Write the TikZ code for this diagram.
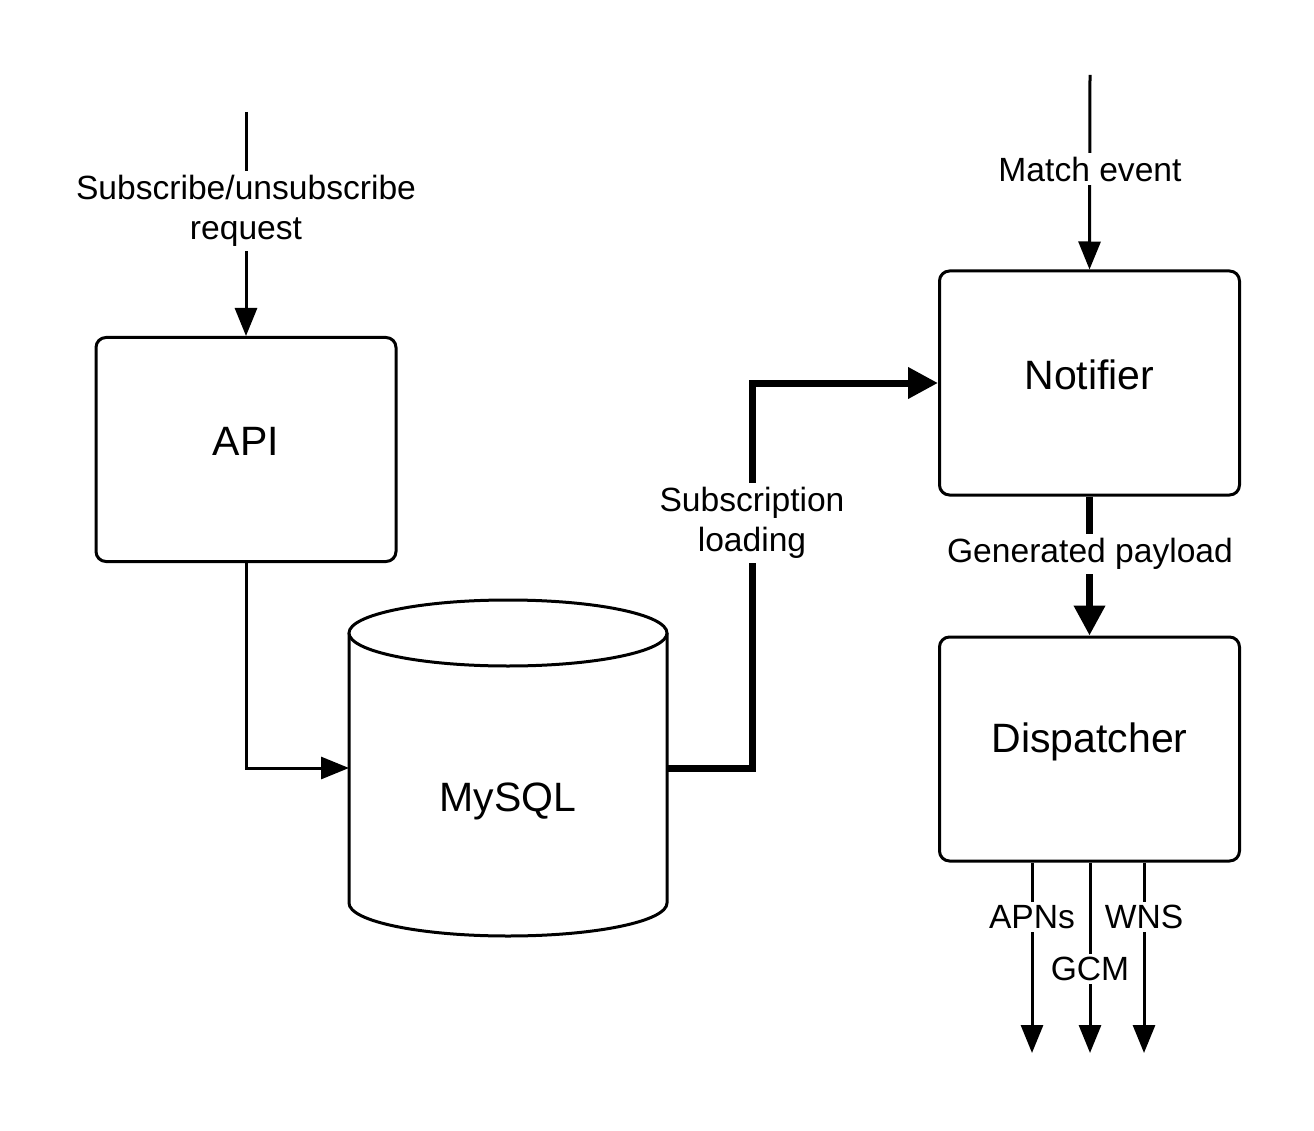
\documentclass[tikz,border=0pt]{standalone}
\usepackage{fontspec}
\setmainfont{Liberation Sans}
\usetikzlibrary{arrows.meta}
\tikzset{
  box/.style={draw, line width=3pt, rounded corners=10pt, minimum width=300pt, minimum height=224pt, inner sep=0pt},
  boxtext/.style={font=\fontsize{41pt}{48pt}\selectfont, inner sep=0pt},
  lbl/.style={font=\fontsize{33.6pt}{40pt}\selectfont, fill=white, inner sep=4pt, align=center},
  thinarrow/.style={line width=3pt, -{Triangle[length=28pt, width=22pt]}},
  thickarrow/.style={line width=7pt, -{Triangle[length=30pt, width=30pt]}},
}
\begin{document}
\begin{tikzpicture}[x=1pt, y=-1pt]
\useasboundingbox (0,0) rectangle (1314,1131);

% boxes
\node[box] (api) at (246,449.5) {};
\node[boxtext] (apit) at ([yshift=8pt]api.center) {API};
\node[box] (notifier) at (1089.5,383) {};
\node[boxtext] (notifiert) at ([yshift=8pt]notifier.center) {Notifier};
\node[box] (dispatcher) at (1089.5,749) {};
\node[boxtext] (dispatchert) at ([yshift=7pt]dispatcher.center) {Dispatcher};

% cylinder
\draw[line width=3pt, fill=white] (349,633) -- (349,903)
  arc[start angle=180, end angle=360, x radius=159pt, y radius=33pt] -- (667,633);
\draw[line width=3pt, fill=white] (508,633) ellipse[x radius=159pt, y radius=33pt];
\node[boxtext] (mysql) at (508,801) {MySQL};
\coordinate (dbW) at (349,768);
\coordinate (dbE) at (667,768);

% coordinates for free ends
\coordinate (subStart) at (246,112);
\coordinate (matchStart) at (1090,75);
\coordinate (bend) at (752,383);
\coordinate (apnEnd) at (1032,1053);
\coordinate (gcmEnd) at (1090,1053);
\coordinate (wnsEnd) at (1144,1053);

% connectors
\draw[thinarrow] (subStart) -- (api.north);
\node[lbl] (sublbl) at (246,211) {Subscribe/unsubscribe\\request};

\draw[thinarrow] (api.south) |- (dbW);

\draw[thickarrow] (dbE) -| (bend) -- (notifier.west);
\node[lbl] (loadlbl) at (752,523) {Subscription\\loading};

\draw[thinarrow] (matchStart) -- (notifier.north);
\node[lbl] (matchlbl) at (1090,169) {Match event};

\draw[thickarrow] (notifier.south) -- (dispatcher.north);
\node[lbl] (paylbl) at (1090,554) {Generated payload};

\draw[thinarrow] (dispatcher.south -| apnEnd) -- (apnEnd);
\draw[thinarrow] (dispatcher.south -| gcmEnd) -- (gcmEnd);
\draw[thinarrow] (dispatcher.south -| wnsEnd) -- (wnsEnd);
\node[lbl, inner sep=3pt] (apnlbl) at (1032,917) {APNs};
\node[lbl, inner sep=3pt] (wnslbl) at (1144,917) {WNS};
\node[lbl, inner sep=3pt] (gcmlbl) at (1090,969) {GCM};
\end{tikzpicture}
\end{document}
